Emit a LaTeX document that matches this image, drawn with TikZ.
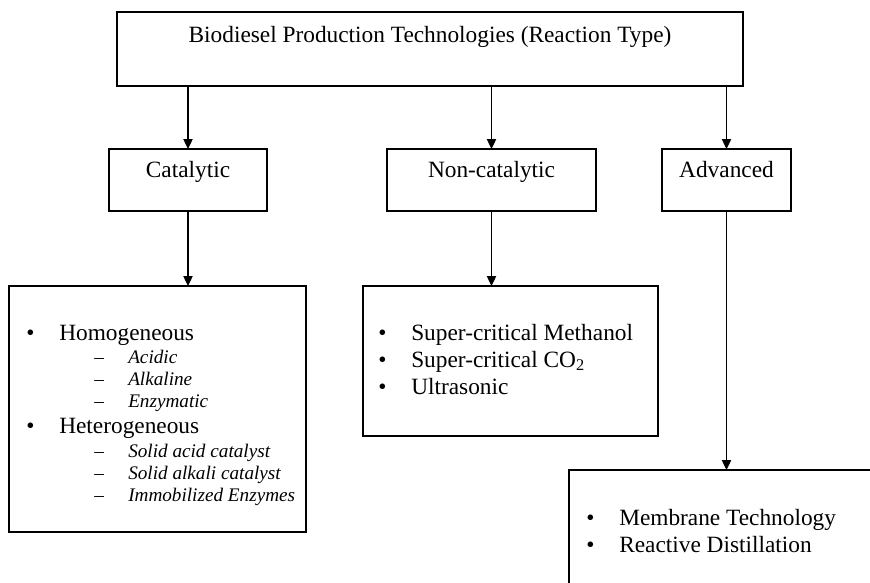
\documentclass[tikz,border=0pt]{standalone}
\usepackage{fontspec}
\setmainfont{Liberation Serif}
\usepackage{tikz}
\usetikzlibrary{arrows.meta}

% list markers: bullet and dash with a fixed tab after them
\newcommand{\bulletmark}{\makebox[24.75pt][l]{•}}
\newcommand{\dashmark}{\makebox[25.5pt][l]{–}}

\begin{document}
\begin{tikzpicture}[
    x=0.75pt, y=-0.75pt,
    box/.style={rectangle, draw, line width=0.9pt, inner sep=0pt, outer sep=0pt},
    arrow/.style={-{Triangle[length=7.5pt, width=7pt]}, line width=0.9pt},
    head/.style={font=\fontsize{17.5}{20}\selectfont, anchor=base, inner sep=0pt},
    item/.style={font=\fontsize{17.5}{20}\selectfont, anchor=base west, inner sep=0pt},
    subitem/.style={font=\fontsize{14.4}{17}\selectfont\itshape, anchor=base west, inner sep=0pt}
]
\useasboundingbox (0,0) rectangle (870,582);
\clip (0,0) rectangle (870,582);

% top level
\node[box, minimum width=469.5pt, minimum height=55.5pt] (tech) at (430,49) {};
\node[head] (techtxt) at (430,42) {Biodiesel Production Technologies (Reaction Type)};

% reaction types
\node[box, minimum width=118.5pt, minimum height=46.5pt] (cat) at (188,180) {};
\node[box, minimum width=156.75pt, minimum height=46.5pt] (noncat) at (491.5,180) {};
\node[box, minimum width=96.75pt, minimum height=46.5pt] (adv) at (726.5,180) {};
\node[head] (cattxt) at (188,177) {Catalytic};
\node[head] (noncattxt) at (491.5,177) {Non-catalytic};
\node[head] (advtxt) at (726.5,177) {Advanced};

% detail boxes
\node[box, minimum width=222.75pt, minimum height=184.5pt] (catlist) at (157.5,409) {};
\node[box, minimum width=221.25pt, minimum height=112.5pt] (noncatlist) at (510.5,361) {};
\node[box, minimum width=248.25pt, minimum height=112.5pt] (advlist) at (734.5,545) {};

% catalytic routes
\node[item] (homo) at (26,340) {\bulletmark Homogeneous};
\node[subitem] (acid) at (94,363) {\dashmark Acidic};
\node[subitem] (alk) at (94,385) {\dashmark Alkaline};
\node[subitem] (enz) at (94,407) {\dashmark Enzymatic};
\node[item] (hetero) at (26,433) {\bulletmark Heterogeneous};
\node[subitem] (solacid) at (94,457) {\dashmark Solid acid catalyst};
\node[subitem] (solalk) at (94,479) {\dashmark Solid alkali catalyst};
\node[subitem] (immob) at (94,501) {\dashmark Immobilized Enzymes};

% non-catalytic routes
\node[item] (scmeoh) at (378,340) {\bulletmark Super-critical Methanol};
\node[item] (scco) at (378,367) {\bulletmark Super-critical CO\textsubscript{2}};
\node[item] (ultra) at (378,394) {\bulletmark Ultrasonic};

% advanced routes
\node[item] (membr) at (586,525) {\bulletmark Membrane Technology};
\node[item] (rdist) at (586,552) {\bulletmark Reactive Distillation};

\draw[arrow] (tech.south -| cat.north) -- (cat.north);
\draw[arrow] (tech.south -| noncat.north) -- (noncat.north);
\draw[arrow] (tech.south -| adv.north) -- (adv.north);
\draw[arrow] (cat.south) -- (cat.south |- catlist.north);
\draw[arrow] (noncat.south) -- (noncat.south |- noncatlist.north);
\draw[arrow] (adv.south) -- (adv.south |- advlist.north);
\end{tikzpicture}
\end{document}
